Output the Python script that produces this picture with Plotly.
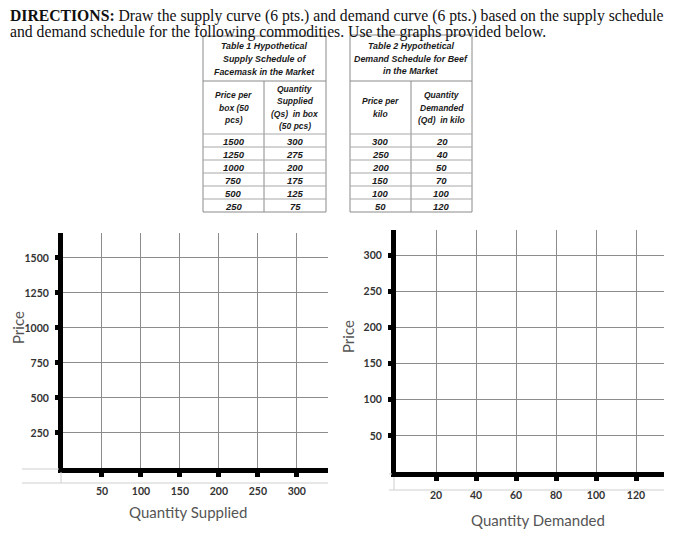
import plotly.graph_objects as go

# Table 1: supply schedule of facemask (price per box of 50 pcs, qty in boxes)
supply_price = [1500, 1250, 1000, 750, 500, 250]
supply_qty = [300, 275, 200, 175, 125, 75]

# Table 2: demand schedule for beef (price per kilo, qty in kilo)
demand_price = [300, 250, 200, 150, 100, 50]
demand_qty = [20, 40, 50, 70, 100, 120]

# tick labels of the two empty graphs
supply_x_ticks = [50, 100, 150, 200, 250, 300]
supply_y_ticks = [250, 500, 750, 1000, 1250, 1500]
demand_x_ticks = [20, 40, 60, 80, 100, 120]
demand_y_ticks = [50, 100, 150, 200, 250, 300]

# the page puts the figure 8px in from the top-left corner
OFF = 8
W, H = 675 - OFF, 535 - OFF


def px(x):
    return (x - OFF) / W


def py(y):
    return 1 - (y - OFF) / H


fig = go.Figure()


def line(x0, y0, x1, y1, color, width=1):
    fig.add_shape(type='line', xref='paper', yref='paper', x0=px(x0), y0=py(y0),
                  x1=px(x1), y1=py(y1), line=dict(color=color, width=width))


def text(s, x, y, size=8.5):
    fig.add_annotation(text=s, xref='paper', yref='paper', x=px(x), y=py(y), showarrow=False,
                       xanchor='center', yanchor='middle',
                       font=dict(family='Liberation Sans', size=size, color='#1a1a1a',
                                 weight='bold', style='italic'))


def lines_block(lines, x, yc, step, size=8.5):
    n = len(lines)
    for k, s in enumerate(lines):
        text(s, x, yc + (k - (n - 1) / 2) * step, size)


def draw_table(left, mid, right, top, title, head_l, head_r, col_l, col_r):
    title_bottom, head_bottom, row_h = 81, 134, 13
    bottom = head_bottom + row_h * len(col_l)
    border = '#8a8a8a'
    fig.add_shape(type='rect', xref='paper', yref='paper', x0=px(left), x1=px(right),
                  y0=py(bottom), y1=py(top), line=dict(color=border, width=1))
    line(left, title_bottom, right, title_bottom, border)
    line(mid, title_bottom, mid, bottom, border)
    for i in range(len(col_l)):
        line(left, head_bottom + i * row_h, right, head_bottom + i * row_h, '#a8a8a8')
    lines_block(title, (left + right) / 2, (top + title_bottom) / 2 + 0.5, 13, 8.9)
    hc = (title_bottom + head_bottom) / 2
    lines_block(head_l, (left + mid) / 2, hc, 12.5)
    lines_block(head_r, (mid + right) / 2, hc, 12.5)
    for i, (a, b) in enumerate(zip(col_l, col_r)):
        yc = head_bottom + row_h * (i + 0.5) + 0.5
        text(str(a), (left + mid) / 2, yc, 9.5)
        text(str(b), (mid + right) / 2, yc, 9.5)


draw_table(203, 264, 326, 36,
           ['Table 1 Hypothetical', 'Supply Schedule of', 'Facemask in the Market'],
           ['Price per', 'box (50', 'pcs)'],
           ['Quantity', 'Supplied', '(Qs)  in box', '(50 pcs)'],
           supply_price, supply_qty)
draw_table(350, 411, 472, 35,
           ['Table 2 Hypothetical', 'Demand Schedule for Beef', 'in the Market'],
           ['Price per', 'kilo'],
           ['Quantity', 'Demanded', '(Qd)  in kilo'],
           demand_price, demand_qty)

# empty graphs to be filled in by hand
fig.add_trace(go.Scatter(x=[], y=[], xaxis='x', yaxis='y', showlegend=False))
fig.add_trace(go.Scatter(x=[], y=[], xaxis='x2', yaxis='y2', showlegend=False))

tickfont = dict(family='Lato', size=10.5, color='#333', weight='bold')
grid = '#8c8c8c'
common_x = dict(showline=True, linewidth=5, linecolor='black', ticks='outside', ticklen=4,
                tickwidth=5, tickcolor='black', showgrid=True, gridcolor=grid, gridwidth=1,
                zeroline=False, tickfont=tickfont, ticklabelstandoff=5, fixedrange=True)
common_y = dict(showline=True, linewidth=5, linecolor='black', ticks='outside', ticklen=3,
                tickwidth=5, tickcolor='black', showgrid=True, gridcolor=grid, gridwidth=1,
                zeroline=False, tickfont=tickfont, ticklabelstandoff=4, fixedrange=True)

fig.update_layout(
    width=W, height=H,
    margin=dict(l=0, r=0, t=0, b=0),
    paper_bgcolor='white', plot_bgcolor='white',
    showlegend=False,
    xaxis=dict(domain=[px(63), px(328)], range=[0, 340], tickvals=supply_x_ticks, anchor='y',
               **common_x),
    yaxis=dict(domain=[py(468), py(233)], range=[0, 1678], tickvals=supply_y_ticks, anchor='x',
               **common_y),
    xaxis2=dict(domain=[px(396), px(664)], range=[0, 134], tickvals=demand_x_ticks, anchor='y2',
                **common_x),
    yaxis2=dict(domain=[py(472), py(230)], range=[0, 334.6], tickvals=demand_y_ticks, anchor='x2',
                **common_y),
)

# faint lines of the original sheet around the origins
faint = '#cfcfcf'
line(22, 469, 59, 469, faint)
line(22, 483, 328, 483, faint)
line(61, 472, 61, 483, faint)
line(389, 474, 392, 474, faint)
line(389, 490, 664, 490, faint)
line(394, 477, 394, 490, faint)

title_font = dict(family='Lato', size=15, color='#555')
titles = [('Quantity Supplied', 188, 512, 0), ('Quantity Demanded', 538, 520, 0),
          ('Price', 18, 328, -90), ('Price', 348, 337, -90)]
for t, x, y, ang in titles:
    fig.add_annotation(text=t, xref='paper', yref='paper', x=px(x), y=py(y), textangle=ang,
                       xanchor='center', yanchor='middle', showarrow=False, font=title_font)

# directions at the top of the sheet
serif = dict(family='Liberation Serif', size=15.7, color='#111')
fig.add_annotation(
    text='<b>DIRECTIONS:</b> Draw the supply curve (6 pts.) and demand curve (6 pts.) based on the supply schedule',
    xref='paper', yref='paper', x=0, y=py(16), xanchor='left', yanchor='middle',
    showarrow=False, font=serif)
fig.add_annotation(
    text='and demand schedule for the following commodities. Use the graphs provided below.',
    xref='paper', yref='paper', x=0, y=py(32), xanchor='left', yanchor='middle',
    showarrow=False, font=serif)

fig.write_html("out.html")
